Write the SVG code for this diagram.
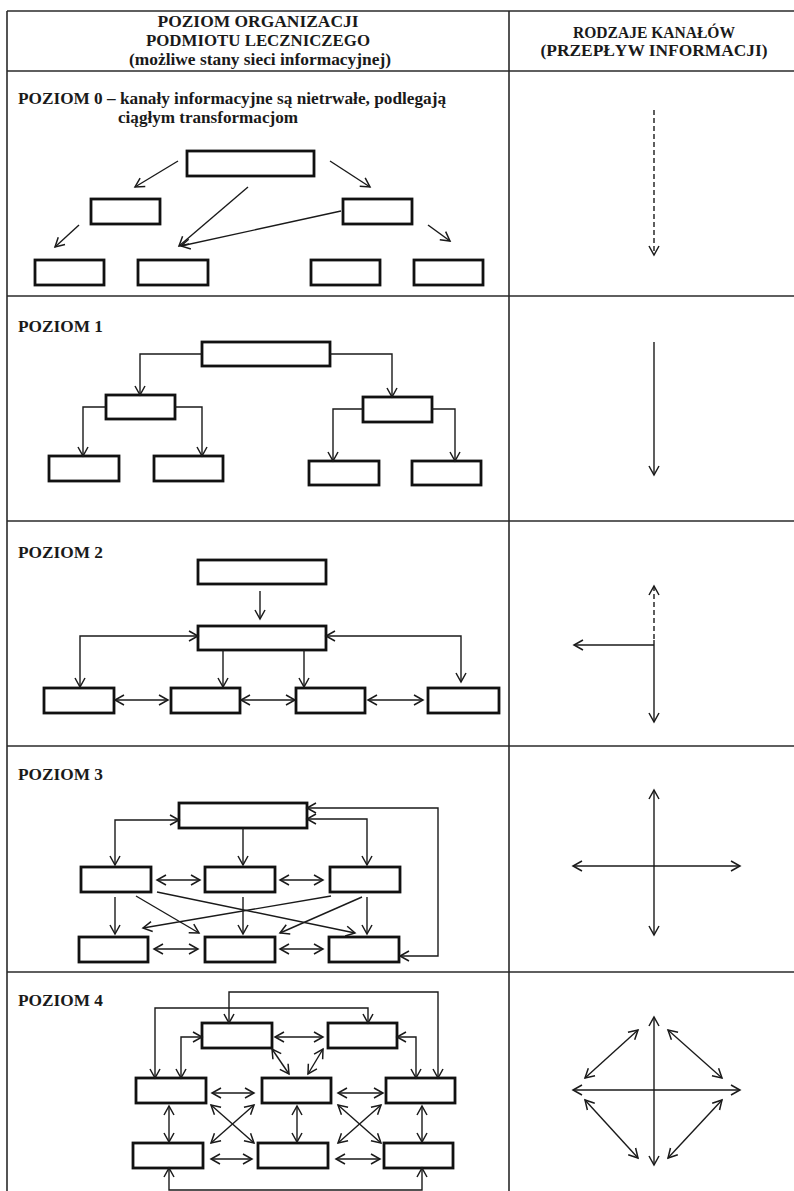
<svg xmlns="http://www.w3.org/2000/svg" width="794" height="1191" viewBox="0 0 794 1191">
  <defs>
    <marker id="ah" viewBox="-12 -7 14 14" refX="0" refY="0" markerWidth="14" markerHeight="14" markerUnits="userSpaceOnUse" orient="auto-start-reverse">
      <path d="M-9,-5 L0,0 L-9,5" fill="none" stroke="#1a1a1a" stroke-width="1.5"/>
    </marker>
    <style>
      .grid { stroke: #2a2a2a; stroke-width: 1.6; fill: none; }
      .box { fill: #fff; stroke: #111; stroke-width: 2.8; }
      .c { fill: none; stroke: #1a1a1a; stroke-width: 1.4; }
      .e { marker-end: url(#ah); }
      .b { marker-start: url(#ah); marker-end: url(#ah); }
      .dash { stroke-dasharray: 5 3; }
      .hd { font-family: "Liberation Serif", "Times New Roman", serif; font-size: 16px; font-weight: bold; fill: #1a1a1a; text-anchor: middle; }
      .lbl { font-family: "Liberation Serif", "Times New Roman", serif; font-size: 16px; font-weight: bold; fill: #1a1a1a; }
    </style>
  </defs>
  <rect width="794" height="1191" fill="#fff"/>

  <!-- table grid -->
  <g id="table" class="grid">
    <line x1="7" y1="11" x2="794" y2="11"/>
    <line x1="7" y1="71" x2="794" y2="71"/>
    <line x1="7" y1="296" x2="794" y2="296"/>
    <line x1="7" y1="521" x2="794" y2="521"/>
    <line x1="7" y1="746" x2="794" y2="746"/>
    <line x1="7" y1="972" x2="794" y2="972"/>
    <line x1="7" y1="11" x2="7" y2="1191"/>
    <line x1="509" y1="11" x2="509" y2="1191"/>
  </g>

  <!-- column headers -->
  <g id="header">
    <text class="hd" x="258" y="27" textLength="201" lengthAdjust="spacingAndGlyphs">POZIOM ORGANIZACJI</text>
    <text class="hd" x="258" y="46" textLength="224" lengthAdjust="spacingAndGlyphs">PODMIOTU LECZNICZEGO</text>
    <text class="hd" x="260" y="65" font-size="15" textLength="262" lengthAdjust="spacingAndGlyphs">(możliwe stany sieci informacyjnej)</text>
    <text class="hd" x="654" y="38" textLength="162" lengthAdjust="spacingAndGlyphs">RODZAJE KANAŁÓW</text>
    <text class="hd" x="654" y="56" textLength="227" lengthAdjust="spacingAndGlyphs">(PRZEPŁYW INFORMACJI)</text>
  </g>

  <!-- level labels -->
  <g id="labels">
    <text class="lbl" x="18" y="104" font-size="15" textLength="428" lengthAdjust="spacingAndGlyphs">POZIOM 0 – kanały informacyjne są nietrwałe, podlegają</text>
    <text class="lbl" x="118" y="123" font-size="15" textLength="180" lengthAdjust="spacingAndGlyphs">ciągłym transformacjom</text>
    <text class="lbl" x="18" y="332" textLength="85" lengthAdjust="spacingAndGlyphs">POZIOM 1</text>
    <text class="lbl" x="18" y="558" textLength="85" lengthAdjust="spacingAndGlyphs">POZIOM 2</text>
    <text class="lbl" x="18" y="780" textLength="85" lengthAdjust="spacingAndGlyphs">POZIOM 3</text>
    <text class="lbl" x="18" y="1006" textLength="85" lengthAdjust="spacingAndGlyphs">POZIOM 4</text>
  </g>

  <!-- level 0 nodes -->
  <g id="l0-top"><rect class="box" x="187" y="151" width="127" height="25"/></g>
  <g id="l0-mid-left"><rect class="box" x="91" y="199" width="69" height="25"/></g>
  <g id="l0-mid-right"><rect class="box" x="343" y="199" width="69" height="25"/></g>
  <g id="l0-bot-1"><rect class="box" x="35" y="260" width="69" height="25"/></g>
  <g id="l0-bot-2"><rect class="box" x="138" y="260" width="70" height="25"/></g>
  <g id="l0-bot-3"><rect class="box" x="311" y="260" width="69" height="25"/></g>
  <g id="l0-bot-4"><rect class="box" x="414" y="260" width="69" height="25"/></g>

  <!-- level 1 nodes -->
  <g id="l1-top"><rect class="box" x="202" y="342" width="128" height="24"/></g>
  <g id="l1-mid-left"><rect class="box" x="106" y="395" width="69" height="24"/></g>
  <g id="l1-mid-right"><rect class="box" x="363" y="397" width="69" height="25"/></g>
  <g id="l1-bot-1"><rect class="box" x="49" y="456" width="70" height="25"/></g>
  <g id="l1-bot-2"><rect class="box" x="154" y="456" width="69" height="25"/></g>
  <g id="l1-bot-3"><rect class="box" x="309" y="461" width="70" height="24"/></g>
  <g id="l1-bot-4"><rect class="box" x="412" y="461" width="69" height="24"/></g>

  <!-- level 2 nodes -->
  <g id="l2-top"><rect class="box" x="198" y="560" width="128" height="24"/></g>
  <g id="l2-mid"><rect class="box" x="198" y="626" width="128" height="24"/></g>
  <g id="l2-bot-1"><rect class="box" x="44" y="688" width="70" height="25"/></g>
  <g id="l2-bot-2"><rect class="box" x="171" y="688" width="69" height="25"/></g>
  <g id="l2-bot-3"><rect class="box" x="296" y="688" width="69" height="25"/></g>
  <g id="l2-bot-4"><rect class="box" x="428" y="688" width="71" height="25"/></g>

  <!-- level 3 nodes -->
  <g id="l3-top"><rect class="box" x="179" y="803" width="128" height="25"/></g>
  <g id="l3-mid-1"><rect class="box" x="81" y="867" width="70" height="25"/></g>
  <g id="l3-mid-2"><rect class="box" x="205" y="867" width="70" height="25"/></g>
  <g id="l3-mid-3"><rect class="box" x="330" y="867" width="70" height="25"/></g>
  <g id="l3-bot-1"><rect class="box" x="79" y="937" width="69" height="25"/></g>
  <g id="l3-bot-2"><rect class="box" x="205" y="937" width="70" height="25"/></g>
  <g id="l3-bot-3"><rect class="box" x="329" y="937" width="70" height="25"/></g>

  <!-- level 4 nodes -->
  <g id="l4-top-1"><rect class="box" x="202" y="1023" width="70" height="25"/></g>
  <g id="l4-top-2"><rect class="box" x="328" y="1023" width="69" height="25"/></g>
  <g id="l4-mid-1"><rect class="box" x="136" y="1078" width="70" height="25"/></g>
  <g id="l4-mid-2"><rect class="box" x="262" y="1078" width="69" height="25"/></g>
  <g id="l4-mid-3"><rect class="box" x="386" y="1078" width="69" height="25"/></g>
  <g id="l4-bot-1"><rect class="box" x="133" y="1143" width="70" height="25"/></g>
  <g id="l4-bot-2"><rect class="box" x="258" y="1143" width="70" height="25"/></g>
  <g id="l4-bot-3"><rect class="box" x="384" y="1143" width="69" height="25"/></g>

  <!-- connectors -->
  <g id="connectors" class="c">
    <!-- level 0 -->
    <path class="e" d="M178,161 L135,187"/>
    <path class="e" d="M248,187 L179,246"/>
    <path class="e" d="M341,211 L181,246"/>
    <path class="e" d="M330,161 L370,187"/>
    <path class="e" d="M79,225 L55,247"/>
    <path class="e" d="M428,225 L450,241"/>

    <!-- level 1 -->
    <path class="e" d="M202,354 H140 V395"/>
    <path class="e" d="M330,354 H392 V397"/>
    <path class="e" d="M106,407 H83 V456"/>
    <path class="e" d="M175,407 H202 V456"/>
    <path class="e" d="M363,409 H333 V461"/>
    <path class="e" d="M432,409 H455 V461"/>

    <!-- level 2 -->
    <path class="e" d="M260,591 V619"/>
    <path class="b" d="M198,636 H80 V687"/>
    <path class="b" d="M326,636 H461 V682"/>
    <path class="e" d="M223,650 V687"/>
    <path class="e" d="M304,650 V687"/>
    <path class="b" d="M115,700 H168"/>
    <path class="b" d="M241,700 H295"/>
    <path class="b" d="M368,700 H423"/>

    <!-- level 3 -->
    <path class="b" d="M179,820 H115 V865"/>
    <path class="b" d="M307,819 H367 V865"/>
    <path class="b" d="M307,808 H438 V956 H400"/>
    <path class="e" d="M243,828 V865"/>
    <path class="b" d="M157,880 H200"/>
    <path class="b" d="M280,880 H323"/>
    <path class="b" d="M154,949 H198"/>
    <path class="b" d="M280,949 H323"/>
    <path class="e" d="M115,897 V934"/>
    <path class="e" d="M243,897 V934"/>
    <path class="e" d="M367,897 V934"/>
    <path class="e" d="M136,896 L199,933"/>
    <path class="e" d="M157,892 L355,933"/>
    <path class="e" d="M331,896 L143,928"/>
    <path class="e" d="M362,897 L280,933"/>

    <!-- level 4 -->
    <path class="b" d="M229,1023 V992 H438 V1078"/>
    <path class="b" d="M155,1078 V1008 H368 V1023"/>
    <path class="b" d="M202,1037 H181 V1078"/>
    <path class="b" d="M397,1037 H416 V1078"/>
    <path class="b" d="M275,1037 H323"/>
    <path class="b" d="M272,1049 L289,1074"/>
    <path class="b" d="M323,1049 L308,1074"/>
    <path class="b" d="M212,1093 H254"/>
    <path class="b" d="M338,1093 H383"/>
    <path class="b" d="M169,1106 V1142"/>
    <path class="b" d="M297,1106 V1142"/>
    <path class="b" d="M422,1106 V1142"/>
    <path class="b" d="M211,1105 L254,1143"/>
    <path class="b" d="M254,1105 L211,1143"/>
    <path class="b" d="M338,1105 L381,1143"/>
    <path class="b" d="M381,1105 L338,1143"/>
    <path class="b" d="M211,1159 H252"/>
    <path class="b" d="M336,1159 H380"/>
    <path class="b" d="M169,1168 V1190 H422 V1168"/>

    <!-- channel types -->
    <path class="e dash" d="M654,110 V255"/>
    <path class="e" d="M654,342 V475"/>
    <path class="dash" d="M654,586 V640" marker-start="url(#ah)"/>
    <path class="e" d="M654,640 V722"/>
    <path class="e" d="M654,645 H574"/>
    <path class="b" d="M654,790 V935"/>
    <path class="b" d="M573,866 H740"/>
    <path class="b" d="M654,1017 V1165"/>
    <path class="b" d="M573,1090 H740"/>
    <path class="b" d="M585,1078 L638,1030"/>
    <path class="b" d="M668,1030 L722,1078"/>
    <path class="b" d="M585,1100 L638,1158"/>
    <path class="b" d="M668,1158 L722,1100"/>
  </g>
</svg>
